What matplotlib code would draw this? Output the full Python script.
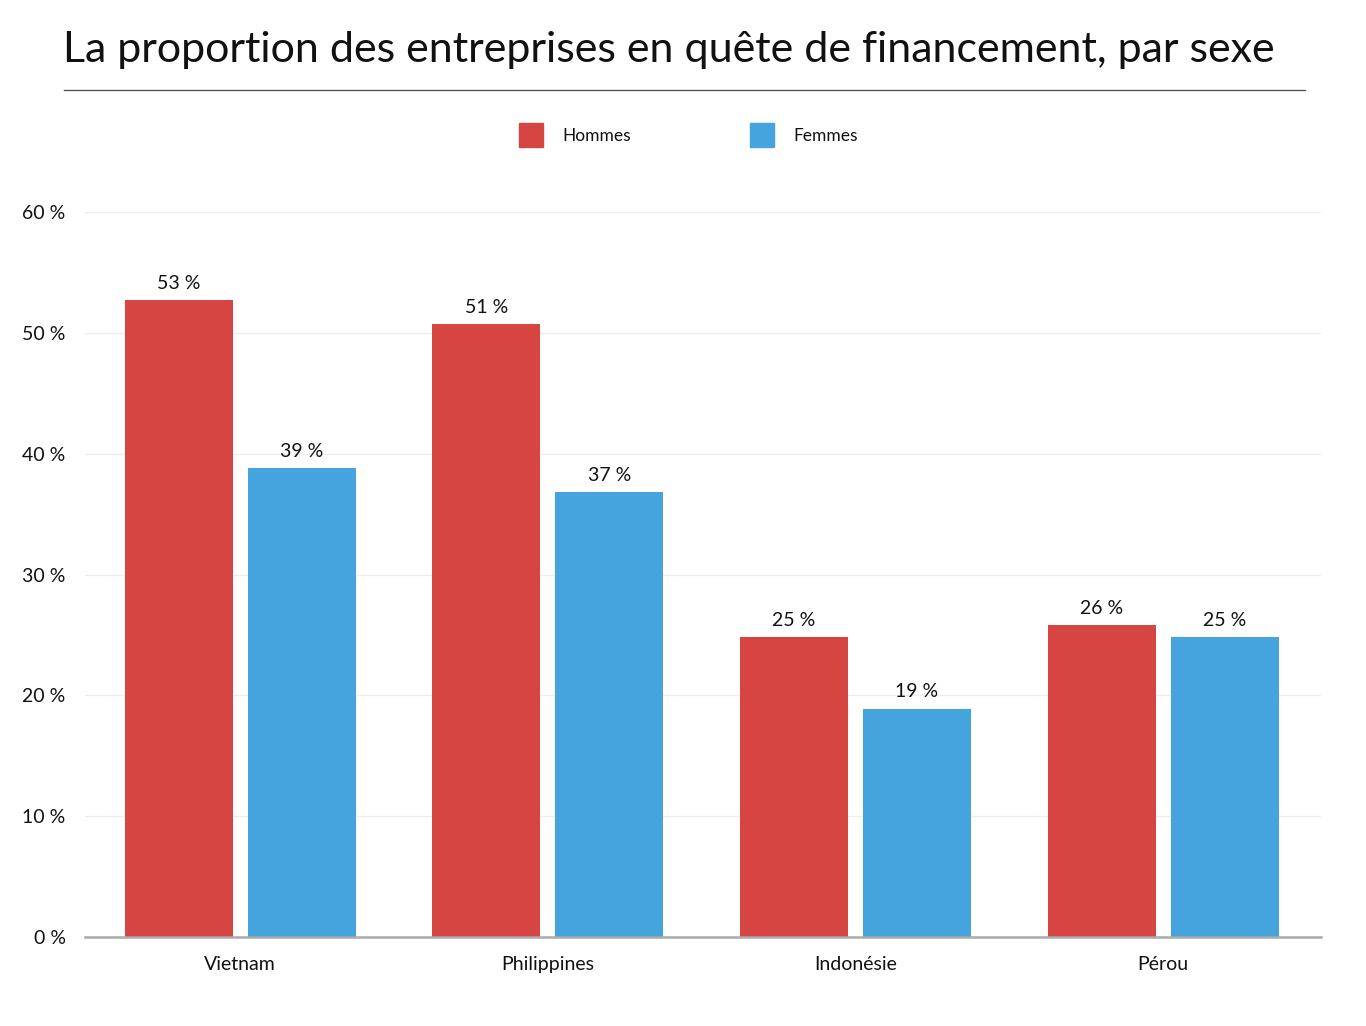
import numpy as np
import matplotlib.pyplot as plt
from matplotlib.lines import Line2D
from matplotlib.patches import Rectangle

plt.rcParams['font.family'] = ['Lato', 'DejaVu Sans']

pays = ["Vietnam", "Philippines", "Indonésie", "Pérou"]
hommes = [52.7, 50.7, 24.8, 25.8]
femmes = [38.8, 36.8, 18.9, 24.8]
yticks = [0, 10, 20, 30, 40, 50, 60]

rouge = "#d64541"
bleu = "#45a3de"

fig = plt.figure(figsize=(13.66, 10.26), dpi=100)
W, H = 1366, 1026

# axes: x 85..1321, y 212..937 (pixels depuis le haut)
ax = fig.add_axes([85 / W, 1 - 937 / H, (1321 - 85) / W, (937 - 212) / H])

x = np.arange(len(pays))
w = 0.351
off = 0.2
b1 = ax.bar(x - off, hommes, w, color=rouge, zorder=3)
b2 = ax.bar(x + off, femmes, w, color=bleu, zorder=3)

for bars, vals in ((b1, hommes), (b2, femmes)):
    for r, v in zip(bars, vals):
        ax.annotate(f"{round(v)} %", (r.get_x() + r.get_width() / 2, v),
                    xytext=(0, 6), textcoords="offset points",
                    ha="center", va="bottom", fontsize=14, color="#111111")

ax.set_xlim(-0.504, 3.513)
ax.set_ylim(0, 60)
ax.set_yticks(yticks)
ax.set_yticklabels([f"{t} %" for t in yticks])
ax.set_xticks(x)
ax.set_xticklabels(pays)
ax.tick_params(axis="both", length=0, labelsize=14, colors="#111111")
ax.tick_params(axis="y", pad=14)
ax.tick_params(axis="x", pad=14)
ax.grid(axis="y", color="#eeeeee", linewidth=1, zorder=0)
for s in ["top", "right", "left"]:
    ax.spines[s].set_visible(False)
ax.spines["bottom"].set_color("#aaaaaa")
ax.spines["bottom"].set_linewidth(1.8)
ax.spines["bottom"].set_zorder(4)

# titre + ligne
fig.text(63 / W, 1 - 50 / H, "La proportion des entreprises en quête de financement, par sexe",
         fontsize=31, va="center", ha="left", color="#111111")
fig.add_artist(Line2D([64 / W, 1305 / W], [1 - 90 / H, 1 - 90 / H],
                      color="#555555", linewidth=1, transform=fig.transFigure))

# légende
for xs, lab, c in ((519, "Hommes", rouge), (750, "Femmes", bleu)):
    fig.add_artist(Rectangle((xs / W, 1 - 147 / H), 24 / W, 24 / H,
                             color=c, transform=fig.transFigure))
    fig.text((xs + 43) / W, 1 - 136 / H, lab, fontsize=12.5, va="center", ha="left",
             color="#111111")

fig.savefig("out.png", dpi=100)
